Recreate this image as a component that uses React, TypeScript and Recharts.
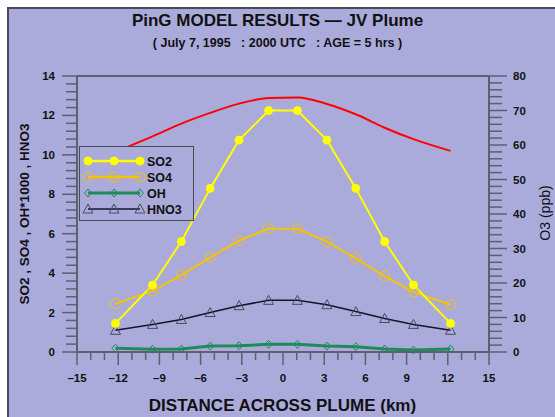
import { LineChart, Line, XAxis, YAxis, ReferenceLine } from 'recharts';

// distance across plume (km) and modelled concentrations
const distance = [-12.2, -9.5, -7.4, -5.3, -3.2, -1.05, 1.05, 3.2, 5.3, 7.4, 9.5, 12.2];
const so2 = [1.45, 3.4, 5.6, 8.3, 10.75, 12.25, 12.25, 10.75, 8.3, 5.6, 3.4, 1.45];
const so4 = [2.45, 3.1, 3.9, 4.8, 5.65, 6.25, 6.25, 5.6, 4.75, 3.85, 3.05, 2.4];
const oh = [0.19, 0.14, 0.15, 0.3, 0.32, 0.39, 0.39, 0.3, 0.27, 0.15, 0.1, 0.15];
const hno3 = [1.1, 1.4, 1.65, 2.0, 2.35, 2.62, 2.62, 2.4, 2.05, 1.7, 1.4, 1.1];
const o3 = [58.0, 62.5, 66.2, 69.3, 72.0, 73.6, 73.8, 71.9, 68.9, 65.0, 61.7, 58.3];

const xMajor = [-15, -12, -9, -6, -3, 0, 3, 6, 9, 12, 15];
const xLabels = ['\u201315', '\u201312', '\u20139', '\u20136', '\u20133', '0', '3', '6', '9', '12', '15'];
const leftMajor = [0, 2, 4, 6, 8, 10, 12, 14];
const rightMajor = [0, 10, 20, 30, 40, 50, 60, 70, 80];

const data = distance.map((d, i) => ({ d, so2: so2[i], so4: so4[i], oh: oh[i], hno3: hno3[i], o3: o3[i] }));

// minor tick positions
const xTicks: number[] = [];
for (let i = -15; i <= 15; i++) xTicks.push(i);
const leftTicks: number[] = [];
for (let i = 0; i <= 35; i++) leftTicks.push(Math.round(i * 4) / 10);
const rightTicks: number[] = [];
for (let i = 0; i <= 40; i++) rightTicks.push(i * 2);

const BG = '#ababdb';
const AXIS = '#5f5f70';
const FONT = '"Liberation Sans", Arial, sans-serif';
const C_SO2 = '#ffff00';
const C_SO4 = '#f5c400';
const C_OH = '#1f8a5a';
const C_HNO3 = '#14142e';
const C_O3 = '#ff0000';

const XTick = (props: any) => {
  const { x, y, payload } = props;
  const idx = xMajor.indexOf(payload.value);
  const major = idx >= 0;
  return (
    <g>
      <line x1={x} x2={x} y1={y} y2={y + (major ? 13 : 8)} stroke={AXIS} strokeWidth={1.5} />
      {major && (
        <text x={x} y={y + 30} textAnchor="middle" fontSize={11.5} fontWeight="bold" fontFamily={FONT} fill="#111">
          {xLabels[idx]}
        </text>
      )}
    </g>
  );
};

const LeftTick = (props: any) => {
  const { x, y, payload } = props;
  const major = leftMajor.includes(payload.value);
  return (
    <g>
      <line x1={x - (major ? 15 : 11)} x2={x} y1={y} y2={y} stroke={AXIS} strokeWidth={1.5} />
      {major && (
        <text x={x - 22} y={y + 4} textAnchor="end" fontSize={11.5} fontWeight="bold" fontFamily={FONT} fill="#111">
          {payload.value}
        </text>
      )}
    </g>
  );
};

const RightTick = (props: any) => {
  const { x, y, payload } = props;
  const major = rightMajor.includes(payload.value);
  return (
    <g>
      <line x1={x} x2={x + (major ? 18 : 13)} y1={y} y2={y} stroke={AXIS} strokeWidth={1.5} />
      {major && (
        <text x={x + 24} y={y + 4} textAnchor="start" fontSize={11.5} fontWeight="bold" fontFamily={FONT} fill="#111">
          {payload.value}
        </text>
      )}
    </g>
  );
};

const FilledDot = (p: any) => <circle key={p.index} cx={p.cx} cy={p.cy} r={4} fill={C_SO2} stroke={C_SO2} />;
const RingDot = (p: any) => <circle key={p.index} cx={p.cx} cy={p.cy} r={5} fill="none" stroke={C_SO4} strokeWidth={1} />;
const Diamond = (p: any) => (
  <path key={p.index} d={`M${p.cx},${p.cy - 4}L${p.cx + 3.5},${p.cy}L${p.cx},${p.cy + 4}L${p.cx - 3.5},${p.cy}Z`} fill="none" stroke={C_OH} strokeWidth={1} />
);
const Triangle = (p: any) => (
  <path key={p.index} d={`M${p.cx},${p.cy - 5}L${p.cx + 5},${p.cy + 4}L${p.cx - 5},${p.cy + 4}Z`} fill="none" stroke="#4a4a5a" strokeWidth={1} />
);

const legendItems = [
  { name: 'SO2', color: C_SO2, width: 2.5, Dot: FilledDot },
  { name: 'SO4', color: C_SO4, width: 2.5, Dot: RingDot },
  { name: 'OH', color: C_OH, width: 3, Dot: Diamond },
  { name: 'HNO3', color: C_HNO3, width: 1.5, Dot: Triangle },
];

export default function App() {
  return (
    <div style={{ position: 'absolute', left: 0, top: 0, width: 555, height: 417, background: '#fff', overflow: 'hidden' }}>
      <div
        style={{
          position: 'absolute', left: 7, top: 7, width: 548, height: 410, background: BG,
          borderLeft: '2px solid #4a4a55', borderTop: '2px solid #4a4a55',
        }}
      />
      <div style={{ position: 'absolute', left: 0, top: 0 }}>
        <LineChart width={555} height={417} data={data} margin={{ top: 76, right: 6, bottom: 25, left: 17 }}>
          <XAxis
            xAxisId="x" dataKey="d" type="number" domain={[-15, 15]} ticks={xTicks} interval={0}
            tick={<XTick />} tickSize={0} tickMargin={0} height={40} tickLine={false}
            axisLine={{ stroke: AXIS, strokeWidth: 2 }}
          />
          <YAxis
            yAxisId="left" orientation="left" type="number" domain={[0, 14]} ticks={leftTicks} interval={0}
            tick={<LeftTick />} tickSize={0} tickMargin={0} width={60} tickLine={false}
            axisLine={{ stroke: AXIS, strokeWidth: 2 }}
          />
          <YAxis
            yAxisId="right" orientation="right" type="number" domain={[0, 80]} ticks={rightTicks} interval={0}
            tick={<RightTick />} tickSize={0} tickMargin={0} width={60} tickLine={false}
            axisLine={{ stroke: AXIS, strokeWidth: 2 }}
          />
          <ReferenceLine xAxisId="x" yAxisId="left" y={14} stroke={AXIS} strokeWidth={2} />
          <Line xAxisId="x" yAxisId="right" dataKey="o3" type="monotone" stroke={C_O3} strokeWidth={2} dot={false} isAnimationActive={false} />
          <Line xAxisId="x" yAxisId="left" dataKey="oh" stroke={C_OH} strokeWidth={3} dot={<Diamond />} isAnimationActive={false} />
          <Line xAxisId="x" yAxisId="left" dataKey="hno3" stroke={C_HNO3} strokeWidth={1.5} dot={<Triangle />} isAnimationActive={false} />
          <Line xAxisId="x" yAxisId="left" dataKey="so4" stroke={C_SO4} strokeWidth={2} dot={<RingDot />} isAnimationActive={false} />
          <Line xAxisId="x" yAxisId="left" dataKey="so2" stroke={C_SO2} strokeWidth={2} dot={<FilledDot />} isAnimationActive={false} />
        </LineChart>
      </div>
      <div style={{ position: 'absolute', left: 0, top: 11, width: 555, textAlign: 'center', fontFamily: FONT, fontWeight: 'bold', fontSize: 17, color: '#111' }}>
        PinG MODEL RESULTS — JV Plume
      </div>
      <div style={{ position: 'absolute', left: 0, top: 36, width: 555, textAlign: 'center', fontFamily: FONT, fontWeight: 'bold', fontSize: 12.5, color: '#111', whiteSpace: 'pre' }}>
        {'( July 7, 1995   : 2000 UTC   : AGE = 5 hrs )'}
      </div>
      <div style={{ position: 'absolute', left: 5, top: 396, width: 555, textAlign: 'center', fontFamily: FONT, fontWeight: 'bold', fontSize: 17, color: '#111' }}>
        DISTANCE ACROSS PLUME (km)
      </div>
      <div
        style={{
          position: 'absolute', left: 24, top: 214, transform: 'translate(-50%, -50%) rotate(-90deg)', whiteSpace: 'nowrap',
          fontFamily: FONT, fontWeight: 'bold', fontSize: 13.5, color: '#111',
        }}
      >
        SO2 , SO4 , OH*1000 , HNO3
      </div>
      <div
        style={{
          position: 'absolute', left: 545, top: 213, transform: 'translate(-50%, -50%) rotate(-90deg)', whiteSpace: 'nowrap',
          fontFamily: FONT, fontSize: 14, color: '#111', lineHeight: '14px',
        }}
      >
        O3 (ppb)
      </div>
      <div style={{ position: 'absolute', left: 79, top: 146, width: 115, height: 75, background: BG, border: '1px solid #4a4a55', boxSizing: 'border-box' }}>
        <svg width={115} height={75}>
          {legendItems.map((it, i) => {
            const y = 14 + i * 16;
            const D = it.Dot;
            return (
              <g key={it.name}>
                <line x1={8} x2={60} y1={y} y2={y} stroke={it.color} strokeWidth={it.width} />
                {[8, 34, 60].map((cx) => <D key={cx} cx={cx} cy={y} />)}
                <text x={67} y={y + 5} fontSize={12.5} fontWeight="bold" fontFamily={FONT} fill="#111">{it.name}</text>
              </g>
            );
          })}
        </svg>
      </div>
    </div>
  );
}
